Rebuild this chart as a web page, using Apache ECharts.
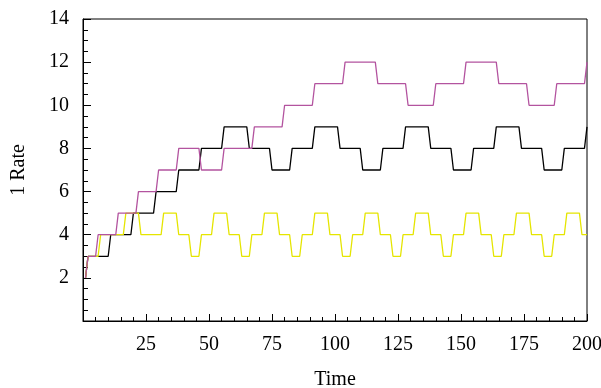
<!DOCTYPE html>
<html>
<head>
<meta charset="utf-8">
<script src="https://cdn.jsdelivr.net/npm/echarts@6/dist/echarts.min.js"></script>
<style>
html,body{margin:0;padding:0;background:#fff;}
#chart{width:601px;height:388px;}
</style>
</head>
<body>
<div id="chart"></div>
<script>
// Step runs: each level holds from its start time until the next start - 1 (last run ends at tMax)
const tMax = 200;
const blackStarts = [1, 2, 11, 20, 29, 38, 47, 56, 66, 75, 83, 92, 102, 111, 119, 128, 138, 147, 155, 164, 174, 183, 191, 200];
const blackLevels = [2, 3, 4, 5, 6, 7, 8, 9, 8, 7, 8, 9, 8, 7, 8, 9, 8, 7, 8, 9, 8, 7, 8, 9];

const yellowStarts = [1, 2, 7, 17, 23, 32, 38, 43, 47, 52, 58, 63, 67, 72, 78, 83, 87, 92, 98, 103, 107, 112, 118, 123, 127, 132, 138, 143, 147, 152, 158, 163, 167, 172, 178, 183, 187, 192, 198];
const yellowLevels = [2, 3, 4, 5, 4, 5, 4, 3, 4, 5, 4, 3, 4, 5, 4, 3, 4, 5, 4, 3, 4, 5, 4, 3, 4, 5, 4, 3, 4, 5, 4, 3, 4, 5, 4, 3, 4, 5, 4];

const purpleStarts = [1, 2, 6, 14, 22, 30, 38, 47, 56, 68, 80, 92, 104, 117, 129, 140, 152, 165, 177, 188, 200];
const purpleLevels = [2, 3, 4, 5, 6, 7, 8, 7, 8, 9, 10, 11, 12, 11, 10, 11, 12, 11, 10, 11, 12];

const xTicks = [25, 50, 75, 100, 125, 150, 175, 200];
const yTicks = [2, 4, 6, 8, 10, 12, 14];

function runsToPoints(starts, levels) {
  const pts = [];
  for (let i = 0; i < starts.length; i++) {
    const s = starts[i];
    const e = i + 1 < starts.length ? starts[i + 1] - 1 : tMax;
    pts.push([s, levels[i]]);
    if (e > s) pts.push([e, levels[i]]);
  }
  return pts;
}

const font = 'Liberation Serif';
const chart = echarts.init(document.getElementById('chart'), null, {renderer: 'canvas'});
chart.setOption({
  animation: false,
  backgroundColor: '#fff',
  grid: {left: 83, top: 19, right: 14, bottom: 67, show: true, borderColor: '#000', borderWidth: 1,
         containLabel: false, outerBoundsMode: 'none'},
  xAxis: {
    type: 'value', min: 0, max: 200, interval: 25,
    name: 'Time', nameLocation: 'middle', nameGap: 49,
    nameTextStyle: {fontFamily: font, fontSize: 20, color: '#000'},
    axisLine: {lineStyle: {color: '#000', width: 1}},
    axisTick: {inside: true, length: 7, lineStyle: {color: '#000'}},
    minorTick: {show: true, splitNumber: 5, length: 4, lineStyle: {color: '#000'}},
    splitLine: {show: false},
    axisLabel: {
      fontFamily: font, fontSize: 20, color: '#000', margin: 14,
      formatter: v => xTicks.indexOf(v) >= 0 ? String(v) : ''
    }
  },
  yAxis: {
    type: 'value', min: 0, max: 14, interval: 2,
    name: '1 Rate', nameLocation: 'middle', nameGap: 54, nameRotate: 90,
    nameTextStyle: {fontFamily: font, fontSize: 20, color: '#000'},
    axisLine: {show: true, lineStyle: {color: '#000', width: 1}},
    axisTick: {show: true, inside: true, length: 8, lineStyle: {color: '#000'}},
    minorTick: {show: true, splitNumber: 4, length: 5, lineStyle: {color: '#000'}},
    splitLine: {show: false},
    axisLabel: {
      fontFamily: font, fontSize: 20, color: '#000', margin: 14,
      formatter: v => yTicks.indexOf(v) >= 0 ? String(v) : ''
    }
  },
  series: [
    {type: 'line', name: 'black', data: runsToPoints(blackStarts, blackLevels), showSymbol: false, symbol: 'none',
     lineStyle: {color: '#000000', width: 1.3}, itemStyle: {color: '#000000'}},
    {type: 'line', name: 'yellow', data: runsToPoints(yellowStarts, yellowLevels), showSymbol: false, symbol: 'none',
     lineStyle: {color: '#e5e500', width: 1.3}, itemStyle: {color: '#e5e500'}},
    {type: 'line', name: 'purple', data: runsToPoints(purpleStarts, purpleLevels), showSymbol: false, symbol: 'none',
     lineStyle: {color: '#b3539f', width: 1.3}, itemStyle: {color: '#b3539f'}}
  ]
});
</script>
</body>
</html>
